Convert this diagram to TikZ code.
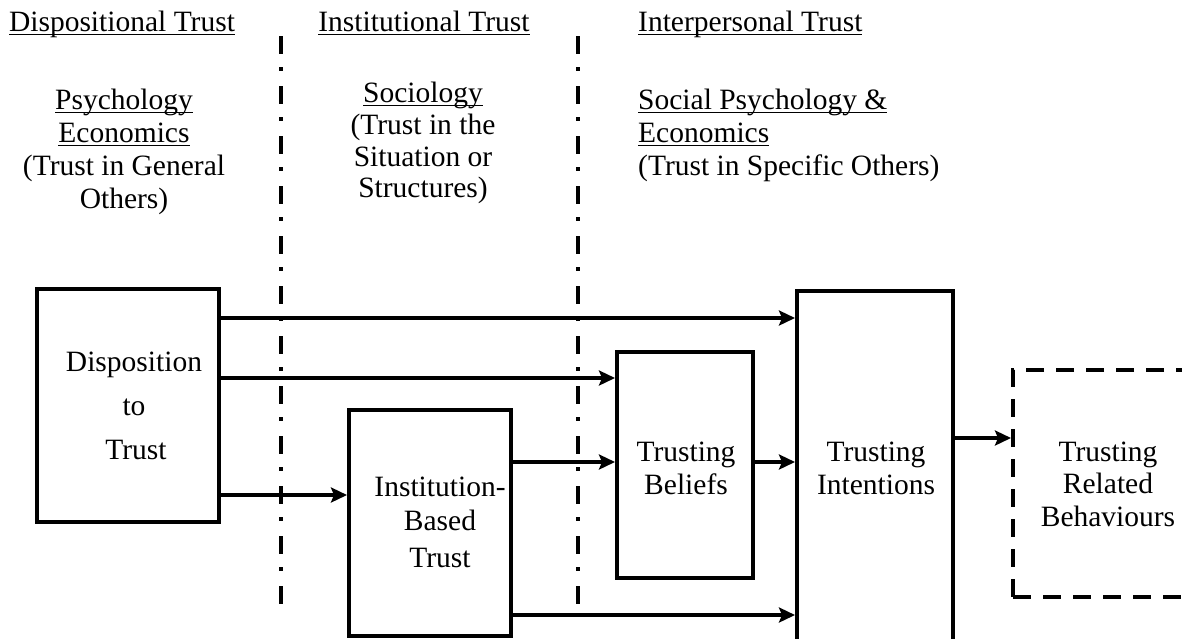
\documentclass[tikz,border=0pt]{standalone}
\usepackage{fontspec}
\setmainfont{Liberation Serif}
\usetikzlibrary{arrows.meta}
\newcommand\fs{\fontsize{29.5}{33}\selectfont}
\newcommand\myul[1]{\setbox0\hbox{#1}\rlap{\rule[-4pt]{\wd0}{1.5pt}}\box0}
\tikzset{
  txt/.style={font=\fs, inner sep=0pt, anchor=base},
  ltxt/.style={font=\fs, inner sep=0pt, anchor=base west},
  box/.style={draw, line width=4pt, inner sep=0pt},
  dbox/.style={box, dash pattern=on 18pt off 12pt},
  arr/.style={line width=4pt, -{Stealth[length=16pt,width=15pt,inset=3pt]}},
  divider/.style={line width=4.5pt, dash pattern=on 18pt off 13pt on 4pt off 15pt}
}
\begin{document}
\begin{tikzpicture}[x=1pt,y=-1pt]
\useasboundingbox (0,0) rectangle (1182,638);
\clip (0,0) rectangle (1182,638);
% headers
\node[txt] (h1) at (122,31) {\myul{Dispositional Trust}};
\node[txt] (h2) at (424,31) {\myul{Institutional Trust}};
\node[ltxt] (h3) at (638,31) {\myul{Interpersonal Trust}};
% left column
\node[txt] (l1) at (124,109) {\myul{Psychology}};
\node[txt] (l2) at (124,142) {\myul{Economics}};
\node[txt] (l3) at (124,175) {(Trust in General};
\node[txt] (l4) at (124,208) {Others)};
% middle column
\node[txt] (m1) at (423,102) {\myul{Sociology}};
\node[txt] (m2) at (423,134) {(Trust in the};
\node[txt] (m3) at (423,166) {Situation or};
\node[txt] (m4) at (423,197) {Structures)};
% right column
\node[ltxt] (r1) at (638,109) {\myul{Social Psychology \&}};
\node[ltxt] (r2) at (638,142) {\myul{Economics}};
\node[ltxt] (r3) at (638,175) {(Trust in Specific Others)};
% dividers
\coordinate (d1t) at (281,36);
\coordinate (d1b) at (281,607);
\coordinate (d2t) at (578,36);
\coordinate (d2b) at (578,607);
\draw[divider] (d1t) -- (d1b);
\draw[divider] (d2t) -- (d2b);
% boxes
\node[box, minimum width=182pt, minimum height=233pt] (disp) at (128,405.5) {};
\node[box, minimum width=162pt, minimum height=226pt] (inst) at (430,523) {};
\node[box, minimum width=136pt, minimum height=226pt] (beli) at (685,465) {};
\node[box, minimum width=156pt, minimum height=369pt] (intn) at (875,475.5) {};
\node[dbox, minimum width=187pt, minimum height=227pt] (behv) at (1106.5,483.5) {};
% box texts
\node[txt] (t1a) at (134,371) {Disposition};
\node[txt] (t1b) at (134,415) {to};
\node[txt] (t1c) at (136,459) {Trust};
\node[txt] (t2a) at (440,496) {Institution-};
\node[txt] (t2b) at (440,530) {Based};
\node[txt] (t2c) at (440,567) {Trust};
\node[txt] (t3a) at (686,461) {Trusting};
\node[txt] (t3b) at (686,494) {Beliefs};
\node[txt] (t4a) at (876,461) {Trusting};
\node[txt] (t4b) at (876,494) {Intentions};
\node[txt] (t5a) at (1108,461) {Trusting};
\node[txt] (t5b) at (1108,493) {Related};
\node[txt] (t5c) at (1108,526) {Behaviours};
% arrows
\draw[arr] ([yshift=-31pt]disp.north east) -- ([yshift=-31pt]disp.north east -| intn.west);
\draw[arr] ([yshift=-91pt]disp.north east) -- ([yshift=-91pt]disp.north east -| beli.west);
\draw[arr] ([yshift=-208pt]disp.north east) -- ([yshift=-208pt]disp.north east -| inst.west);
\draw[arr] ([yshift=-54pt]inst.north east) -- ([yshift=-54pt]inst.north east -| beli.west);
\draw[arr] ([yshift=-207pt]inst.north east) -- ([yshift=-207pt]inst.north east -| intn.west);
\draw[arr] ([yshift=-112pt]beli.north east) -- ([yshift=-112pt]beli.north east -| intn.west);
\draw[arr] ([yshift=-149pt]intn.north east) -- ([yshift=-149pt]intn.north east -| behv.west);
\end{tikzpicture}
\end{document}
